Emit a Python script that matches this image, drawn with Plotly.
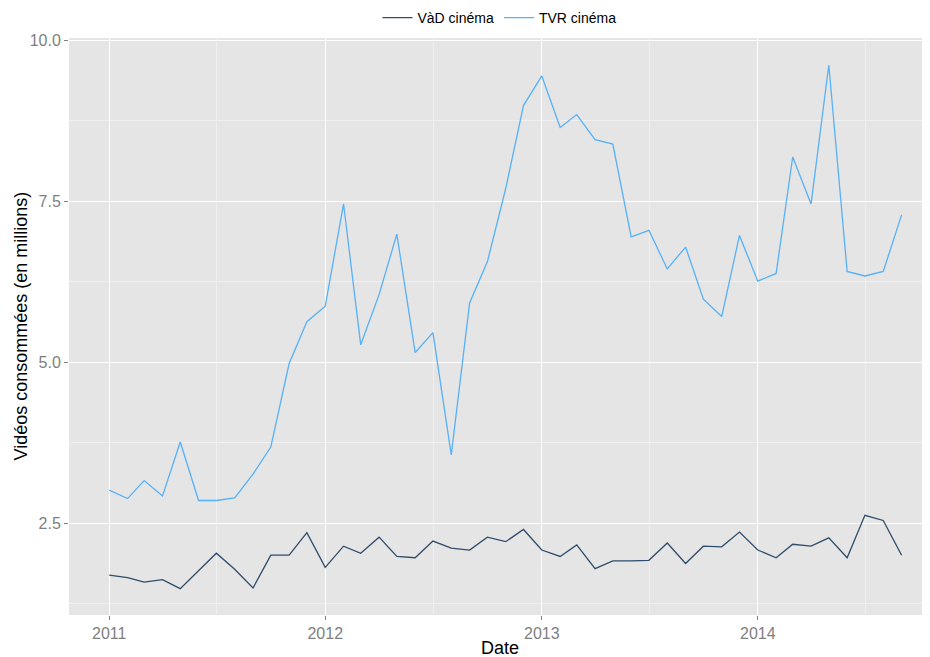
import plotly.graph_objects as go
import pandas as pd

# monthly points, Jan 2011 -> Sep 2014
dates = pd.date_range("2011-01-01", "2014-09-01", freq="MS")

vad_cinema = [
    1.69, 1.65, 1.58, 1.62, 1.48, 1.76, 2.03, 1.78, 1.49, 2.00, 2.00, 2.35,
    1.81, 2.14, 2.03, 2.28, 1.98, 1.96, 2.22, 2.11, 2.08, 2.28, 2.21, 2.40,
    2.08, 1.98, 2.16, 1.79, 1.91, 1.91, 1.92, 2.19, 1.87, 2.14, 2.13, 2.36,
    2.08, 1.96, 2.17, 2.14, 2.27, 1.96, 2.62, 2.54, 2.00,
]
tvr_cinema = [
    3.01, 2.88, 3.16, 2.92, 3.76, 2.85, 2.85, 2.89, 3.26, 3.68, 4.98, 5.63,
    5.87, 7.46, 5.27, 6.05, 6.99, 5.15, 5.46, 3.56, 5.92, 6.56, 7.70, 8.99,
    9.45, 8.65, 8.85, 8.46, 8.39, 6.95, 7.05, 6.45, 6.79, 5.98, 5.71, 6.97,
    6.26, 6.38, 8.19, 7.46, 9.62, 6.41, 6.34, 6.41, 7.29,
]

year_ticks = ["2011-01-01", "2012-01-01", "2013-01-01", "2014-01-01"]
year_labels = ["2011", "2012", "2013", "2014"]
y_ticks = [2.5, 5.0, 7.5, 10.0]
y_labels = ["2.5", "5.0", "7.5", "10.0"]

fig = go.Figure()
fig.add_trace(go.Scatter(
    x=dates, y=vad_cinema, mode="lines", name="VàD cinéma",
    line=dict(color="#2E4C6B", width=1.3),
))
fig.add_trace(go.Scatter(
    x=dates, y=tvr_cinema, mode="lines", name="TVR cinéma",
    line=dict(color="#56B1F7", width=1.3),
))

# page body has an 8px margin, so the figure is sized to fit the window
fig.update_layout(
    width=922, height=649,
    paper_bgcolor="white",
    plot_bgcolor="#E5E5E5",
    font=dict(family="Liberation Sans, Arial, sans-serif", color="black"),
    margin=dict(l=61, r=0, t=30, b=42, autoexpand=False),
    showlegend=True,
    legend=dict(
        orientation="h", x=0.5, xanchor="center", y=1.007, yanchor="bottom",
        font=dict(size=14, color="black"), bgcolor="rgba(0,0,0,0)",
        itemwidth=30, tracegroupgap=0,
    ),
    xaxis=dict(
        range=["2010-10-25", "2014-10-19"],
        tickvals=year_ticks, ticktext=year_labels,
        showgrid=True, gridcolor="white", gridwidth=1.2,
        minor=dict(tickvals=["2011-07-02", "2012-07-02", "2013-07-02", "2014-07-02"],
                   showgrid=True, gridcolor="#F0F0F0", gridwidth=0.6),
        ticks="outside", ticklen=4, tickcolor="#7F7F7F",
        tickfont=dict(size=16, color="#7F7F7F"),
        zeroline=False, showline=False, automargin=False,
    ),
    yaxis=dict(
        range=[1.07, 10.04],
        tickvals=y_ticks, ticktext=y_labels,
        showgrid=True, gridcolor="white", gridwidth=1.2,
        minor=dict(tickvals=[1.25, 3.75, 6.25, 8.75],
                   showgrid=True, gridcolor="#F0F0F0", gridwidth=0.6),
        ticks="outside", ticklen=4, tickcolor="#7F7F7F",
        tickfont=dict(size=16, color="#7F7F7F"),
        zeroline=False, showline=False, automargin=False,
    ),
    annotations=[
        dict(text="Date", xref="paper", yref="paper", x=0.5, y=0,
             xanchor="center", yanchor="middle", yshift=-33,
             showarrow=False, font=dict(size=18, color="black")),
        dict(text="Vidéos consommées (en millions)", xref="paper", yref="paper",
             x=0, y=0.5, xanchor="center", yanchor="middle", xshift=-49,
             textangle=-90, showarrow=False, font=dict(size=18, color="black")),
    ],
)

fig.write_html("out.html")
